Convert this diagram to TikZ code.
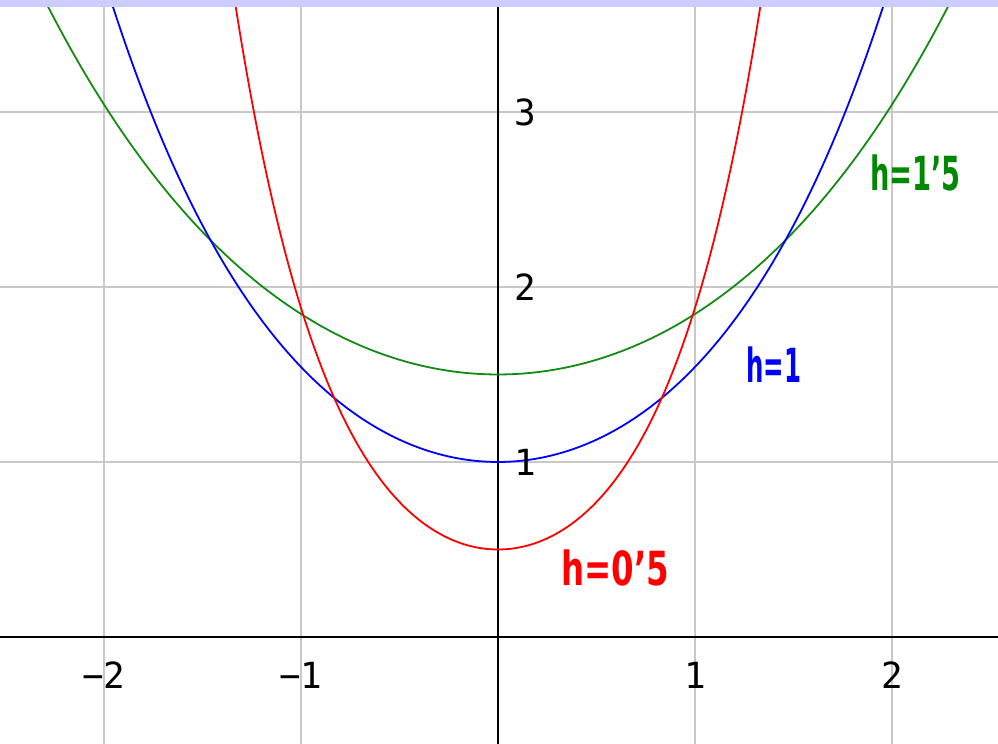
\documentclass[tikz,border=0pt]{standalone}
\usepackage{fontspec}
\setmainfont{DejaVu Sans}
\newfontfamily\tickfont{DejaVu Sans Mono}
\usepackage{graphicx}
\definecolor{gridgray}{RGB}{200,200,200}
\definecolor{bandblue}{RGB}{204,204,255}
\definecolor{curvegreen}{RGB}{20,140,20}
\definecolor{labgreen}{RGB}{0,136,0}
\definecolor{curveblue}{RGB}{0,0,255}
\definecolor{curvered}{RGB}{255,0,0}
\begin{document}
\begin{tikzpicture}[x=98.5pt,y=87.5pt,
  gridline/.style={draw=gridgray, line width=1pt},
  axisline/.style={draw=black, line width=1pt},
  curveline/.style={line width=0.9pt, samples=300},
  ticklab/.style={font=\tickfont\fontsize{18}{20}\selectfont, inner sep=0pt, text=black},
  hlab/.style={font=\bfseries\fontsize{23.5}{28}\selectfont, inner sep=0pt, anchor=base west}]
\useasboundingbox (-2.52792,-0.61143) rectangle (2.53807,3.64);
\begin{scope}
\clip (-2.52792,-0.61143) rectangle (2.53807,3.64);
% grid
\foreach \gx in {-2,-1,1,2} \draw[gridline] (\gx,-0.7) -- (\gx,3.7);
\foreach \gy in {1,2,3} \draw[gridline] (-2.6,\gy) -- (2.6,\gy);
% axes
\draw[axisline] (-2.6,0) -- (2.6,0);
\draw[axisline] (0,-0.7) -- (0,3.7);
% curves
\draw[curveline, curvegreen, domain=-2.6:2.6] plot (\x,{1.5*cosh(\x/1.5)});
\draw[curveline, curveblue, domain=-2.1:2.1] plot (\x,{cosh(\x)});
\draw[curveline, curvered, domain=-1.42:1.42] plot (\x,{0.5*cosh(2*\x)});
% top band
\fill[bandblue] (-2.6,3.6) rectangle (2.6,3.7);
\end{scope}
% tick labels
\node[ticklab, anchor=base] (xm2) at (-2,-0.297) {−2};
\node[ticklab, anchor=base] (xm1) at (-1,-0.297) {−1};
\node[ticklab, anchor=base] (xp1) at (1,-0.297) {1};
\node[ticklab, anchor=base] (xp2) at (2,-0.297) {2};
\node[ticklab, anchor=west] (y1) at (0.081,1) {1};
\node[ticklab, anchor=west] (y2) at (0.081,2) {2};
\node[ticklab, anchor=west] (y3) at (0.081,3) {3};
% curve labels
\node[hlab, text=labgreen] (lg) at (1.888,2.554) {\scalebox{0.58}[1]{h=1'5}};
\node[hlab, text=curveblue] (lb) at (1.259,1.457) {\scalebox{0.52}[1]{h=1}};
\node[hlab, text=curvered] (lr) at (0.320,0.297) {\scalebox{0.69}[1]{h=0'5}};
\end{tikzpicture}
\end{document}
